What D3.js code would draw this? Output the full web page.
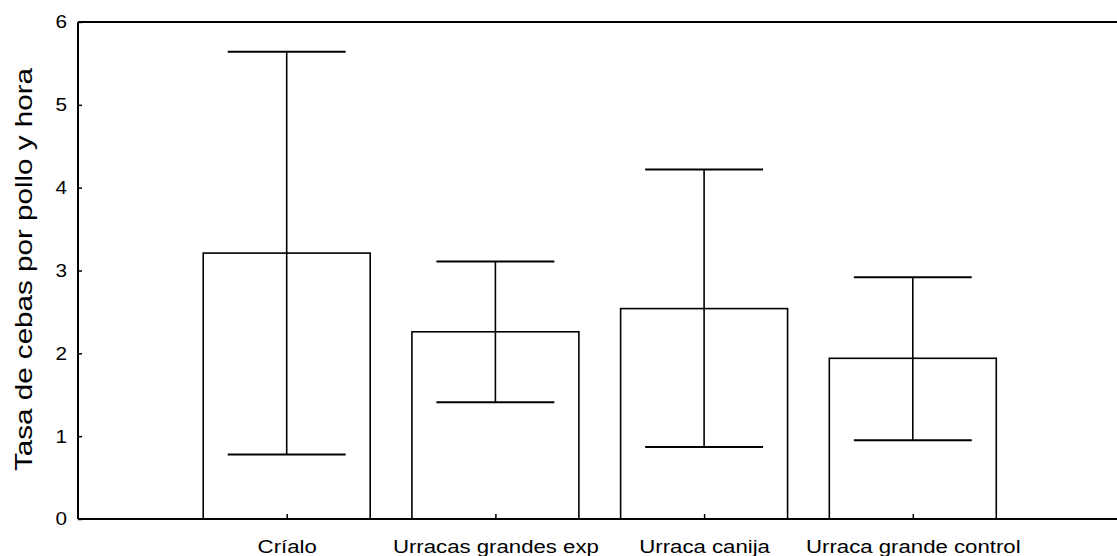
<!DOCTYPE html>
<html>
<head>
<meta charset="utf-8">
<script src="https://cdn.jsdelivr.net/npm/d3@7"></script>
<style>
  body { margin: 0; background: #fff; }
  svg { display: block; font-family: "Liberation Sans", Arial, sans-serif; }
</style>
</head>
<body>
<div id="chart"></div>
<script>
var categories = ["Cr\u00edalo", "Urracas grandes exp", "Urraca canija", "Urraca grande control"];
var means = [3.21, 2.26, 2.54, 1.94];
var upper = [5.64, 3.11, 4.22, 2.92];
var lower = [0.78, 1.41, 0.87, 0.95];
var yTicks = [0, 1, 2, 3, 4, 5, 6];
var yTitle = "Tasa de cebas por pollo y hora";

var width = 1117, height = 556;
var stretch = 1.2;   // source text is drawn wider than plain Arial

var svg = d3.select("#chart").append("svg")
    .attr("width", width)
    .attr("height", height);

// slots: axis at 0, categories at 1..4
var x = d3.scaleLinear().domain([0, 5]).range([78, 1121.5]);
var y = d3.scaleLinear().domain([0, 6]).range([519, 22]);

var slot = x(1) - x(0);
var barW = slot * 0.8;
var capW = slot * 0.565;

var rows = categories.map(function(c, i) {
    return {name: c, pos: i + 1, mean: means[i], hi: upper[i], lo: lower[i]};
});

// bars
svg.selectAll("rect.bar")
    .data(rows)
    .enter().append("rect")
    .attr("class", "bar")
    .attr("x", function(d) { return x(d.pos) - barW / 2; })
    .attr("y", function(d) { return y(d.mean); })
    .attr("width", barW)
    .attr("height", function(d) { return y(0) - y(d.mean); })
    .attr("fill", "#fff")
    .attr("stroke", "#000")
    .attr("stroke-width", 1.6);

// error bars
var err = svg.selectAll("g.err")
    .data(rows)
    .enter().append("g")
    .attr("class", "err")
    .attr("stroke", "#000")
    .attr("stroke-width", 1.6);

err.append("line")
    .attr("x1", function(d) { return x(d.pos); })
    .attr("x2", function(d) { return x(d.pos); })
    .attr("y1", function(d) { return y(d.lo); })
    .attr("y2", function(d) { return y(d.hi); });

err.append("line")
    .attr("x1", function(d) { return x(d.pos) - capW / 2; })
    .attr("x2", function(d) { return x(d.pos) + capW / 2; })
    .attr("y1", function(d) { return y(d.hi); })
    .attr("y2", function(d) { return y(d.hi); })
    .attr("stroke-width", 2);

err.append("line")
    .attr("x1", function(d) { return x(d.pos) - capW / 2; })
    .attr("x2", function(d) { return x(d.pos) + capW / 2; })
    .attr("y1", function(d) { return y(d.lo); })
    .attr("y2", function(d) { return y(d.lo); })
    .attr("stroke-width", 2);

// frame lines: left, top, bottom
svg.append("line")
    .attr("x1", x(0)).attr("x2", x(0))
    .attr("y1", y(6)).attr("y2", y(0))
    .attr("stroke", "#000").attr("stroke-width", 2);
svg.append("line")
    .attr("x1", x(0)).attr("x2", width)
    .attr("y1", y(6)).attr("y2", y(6))
    .attr("stroke", "#000").attr("stroke-width", 2);
svg.append("line")
    .attr("x1", x(0)).attr("x2", width)
    .attr("y1", y(0)).attr("y2", y(0))
    .attr("stroke", "#000").attr("stroke-width", 2);

// y axis ticks (pointing inward)
var yAxis = d3.axisLeft(y)
    .tickValues(yTicks)
    .tickSize(-4)
    .tickPadding(11)
    .tickFormat(d3.format("d"));

var gy = svg.append("g")
    .attr("transform", "translate(" + x(0) + ",0)")
    .call(yAxis);
gy.select(".domain").remove();
gy.selectAll(".tick line").attr("stroke", "#000").attr("stroke-width", 1.5);
gy.selectAll(".tick text")
    .attr("fill", "#000")
    .attr("x", -11 / 1.12)
    .attr("transform", "scale(1.12,1)")
    .style("font-size", "18.5px")
    .style("font-family", "'Liberation Sans', Arial, sans-serif");

// x axis ticks (pointing inward)
var xAxis = d3.axisBottom(x)
    .tickValues(rows.map(function(d) { return d.pos; }))
    .tickSize(-5)
    .tickFormat(function(v) { return categories[v - 1]; });

var gx = svg.append("g")
    .attr("transform", "translate(0," + y(0) + ")")
    .call(xAxis);
gx.select(".domain").remove();
gx.selectAll(".tick line").attr("stroke", "#000").attr("stroke-width", 1.5);
gx.selectAll(".tick text")
    .attr("fill", "#000")
    .attr("y", 34)
    .attr("dy", 0)
    .attr("transform", "scale(" + stretch + ",1)")
    .style("font-size", "18.5px")
    .style("font-family", "'Liberation Sans', Arial, sans-serif");

// y title
svg.append("text")
    .attr("transform", "translate(32," + (y(3) - 1) + ") rotate(-90) scale(1.26,1)")
    .attr("text-anchor", "middle")
    .style("font-size", "23.5px")
    .attr("fill", "#000")
    .text(yTitle);
</script>
</body>
</html>
